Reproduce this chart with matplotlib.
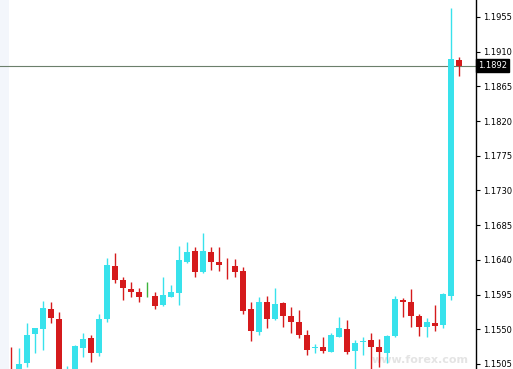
import numpy as np
import matplotlib
matplotlib.use("Agg")
import matplotlib.pyplot as plt
import matplotlib.transforms as mtransforms

# candle values (open, high, low, close)
opens = [1.1496, 1.1494, 1.15063, 1.15439, 1.15504, 1.15763, 1.15634, 1.1490, 1.1494, 1.15257,
         1.15387, 1.15193, 1.15634, 1.16321, 1.16139, 1.16023, 1.15984, 1.15919, 1.15932, 1.15815,
         1.15919, 1.15971, 1.16373, 1.16515, 1.16243, 1.16503, 1.16373, 1.16340, 1.16321, 1.16256,
         1.15763, 1.15465, 1.15854, 1.15634, 1.15841, 1.15673, 1.15595, 1.15426, 1.15257, 1.15270,
         1.15206, 1.15400, 1.15504, 1.15219, 1.15340, 1.15361, 1.15270, 1.15193, 1.15413, 1.15880,
         1.15854, 1.15673, 1.15530, 1.15582, 1.15556, 1.15932, 1.18992]
highs = [1.1527, 1.1526, 1.15582, 1.1552, 1.15867, 1.15854, 1.15724, 1.15024, 1.15296, 1.15452,
         1.15426, 1.15698, 1.16425, 1.16490, 1.16178, 1.16113, 1.16036, 1.16113, 1.15984, 1.16178,
         1.16075, 1.16580, 1.16632, 1.16567, 1.16749, 1.16567, 1.16567, 1.16425, 1.16412, 1.16308,
         1.15854, 1.15919, 1.15932, 1.16036, 1.15854, 1.15789, 1.15750, 1.15491, 1.15309, 1.15400,
         1.15452, 1.15660, 1.15621, 1.15361, 1.15400, 1.15452, 1.15374, 1.15420, 1.15932, 1.15906,
         1.16023, 1.15698, 1.15647, 1.15815, 1.15971, 1.19667, 1.19031]
lows = [1.1486, 1.1490, 1.15011, 1.15193, 1.15232, 1.15582, 1.1485, 1.1485, 1.1490, 1.15141,
        1.15076, 1.15154, 1.15595, 1.16100, 1.15880, 1.15919, 1.15854, 1.15915, 1.15763, 1.15802,
        1.15915, 1.15815, 1.16360, 1.16178, 1.16230, 1.16269, 1.16256, 1.16152, 1.16178, 1.15698,
        1.15348, 1.15426, 1.15517, 1.15621, 1.15530, 1.15452, 1.15387, 1.15167, 1.15193, 1.15193,
        1.15200, 1.15395, 1.15180, 1.14985, 1.15167, 1.1495, 1.15011, 1.15063, 1.15400, 1.15660,
        1.15530, 1.15413, 1.15400, 1.15478, 1.15517, 1.15880, 1.18785]
closes = [1.1490, 1.15050, 1.15426, 1.15517, 1.15776, 1.15647, 1.1490, 1.1497, 1.15283, 1.15374,
          1.15193, 1.15634, 1.16334, 1.16139, 1.16036, 1.15984, 1.15919, 1.15919, 1.15802, 1.15945,
          1.15984, 1.16399, 1.16503, 1.16243, 1.16515, 1.16373, 1.16334, 1.16330, 1.16243, 1.15737,
          1.15478, 1.15854, 1.15634, 1.15828, 1.15673, 1.15595, 1.15426, 1.15232, 1.15270, 1.15219,
          1.15426, 1.15517, 1.15206, 1.15322, 1.15350, 1.15270, 1.15206, 1.15413, 1.15893, 1.15854,
          1.15673, 1.15530, 1.15595, 1.15543, 1.15958, 1.19005, 1.18915]

last_price = 1.1892
yticks = [1.1505, 1.1550, 1.1595, 1.1640, 1.1685, 1.1730, 1.1775, 1.1820, 1.1865, 1.1910, 1.1955]

up_col = "#38e2ec"
down_col = "#d51a1c"
doji_col = "#3cb43c"

fig = plt.figure(figsize=(5.13, 3.69), dpi=100)
ax = fig.add_axes([0, 0, 476 / 513, 1])

x = np.arange(len(opens))
o = np.array(opens)
c = np.array(closes)
h = np.array(highs)
l = np.array(lows)

colors = []
for i in range(len(o)):
    if c[i] > o[i]:
        colors.append(up_col)
    elif c[i] < o[i]:
        colors.append(down_col)
    else:
        colors.append(doji_col)

# wicks then bodies
ax.vlines(x, l, h, colors=colors, linewidth=1, zorder=2)
body_bottom = np.minimum(o, c)
body_h = np.maximum(np.abs(c - o), 0.00006)
ax.bar(x, body_h, bottom=body_bottom, width=0.7, color=colors, linewidth=0, zorder=3)

# light strip on left edge
ax.axvspan(-1.375, -0.2, color="#f3f6fb", zorder=0, linewidth=0)

# current price line
ax.axhline(last_price, color="#6b7f6b", linewidth=0.8, zorder=1)

ax.set_xlim(-1.375, 58.125)
ax.set_ylim(1.14985, 1.19770)

ax.yaxis.tick_right()
ax.set_yticks(yticks)
ax.set_yticklabels(["%.4f" % t for t in yticks])
ax.tick_params(axis="y", direction="out", length=3, width=0.8, labelsize=6, pad=2, colors="black")
ax.set_xticks([])
for s in ["left", "top", "bottom"]:
    ax.spines[s].set_visible(False)
ax.spines["right"].set_linewidth(1)

trans = mtransforms.blended_transform_factory(ax.transAxes, ax.transData)
ax.text(1.004, last_price, "%.4f" % last_price, transform=trans, color="white", fontsize=6,
        va="center", ha="left", bbox=dict(facecolor="black", edgecolor="black", pad=1.5), zorder=5)

# faint watermark near the bottom
ax.text(0.985, 0.012, "www.forex.com", transform=ax.transAxes, color="#e4e4e4", fontsize=8,
        fontweight="bold", va="bottom", ha="right", zorder=1)

fig.savefig("out.png", dpi=100)
